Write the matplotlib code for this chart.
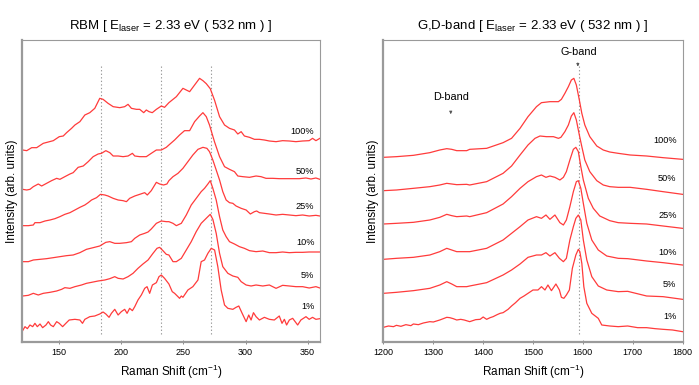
import matplotlib
matplotlib.use("Agg")
import matplotlib.pyplot as plt

plt.rcParams['font.family'] = ['Liberation Sans', 'DejaVu Sans']
plt.rcParams['mathtext.fontset'] = 'custom'
plt.rcParams['mathtext.rm'] = 'Liberation Sans'
plt.rcParams['mathtext.it'] = 'Liberation Sans:italic'

# ---- RBM spectra (Raman shift in cm-1, intensity in arb. units incl. stacking offset)
rbm_100_x = [120.5, 123.8, 127.8, 131.8, 137.1, 145.2, 150.0, 153.2, 155.9, 159.9, 162.6, 166.6, 170.6,
             174.6, 178.6, 182.6, 185.3, 189.3, 193.4, 198.7, 202.7, 205.4, 208.1, 212.1, 214.8, 218.0,
             220.1, 222.3, 224.9, 228.2, 232.2, 234.8, 238.3, 244.3, 249.6, 255.0, 259.0, 263.0, 265.7,
             268.4, 271.6, 275.1, 279.1, 283.1, 287.1, 291.1, 293.8, 296.5, 299.1, 303.2, 307.2, 311.2,
             315.2, 319.2, 324.6, 329.9, 335.3, 340.6, 346.0, 351.3, 354.0, 356.7, 359.9]
rbm_100_y = [576, 574, 583, 583, 596, 604, 616, 618, 628, 641, 651, 661, 681, 688, 701, 731, 728, 716, 706,
             703, 706, 713, 701, 698, 698, 688, 696, 691, 688, 698, 708, 704, 718, 736, 761, 751, 771, 791,
             784, 775, 760, 725, 676, 651, 641, 636, 624, 631, 618, 614, 608, 608, 606, 603, 601, 604, 603,
             601, 603, 604, 611, 604, 611]

rbm_50_x = [120.5, 123.8, 126.4, 129.1, 133.1, 135.8, 139.8, 143.8, 147.9, 150.5, 154.5, 158.6, 161.2,
            165.2, 169.3, 173.3, 177.3, 181.3, 184.0, 187.5, 190.7, 193.4, 197.4, 201.4, 205.4, 208.9,
            210.8, 214.8, 220.1, 224.1, 228.2, 232.2, 236.2, 238.3, 242.9, 246.9, 250.9, 255.0, 259.0,
            263.0, 265.7, 268.4, 271.0, 275.0, 279.1, 283.1, 287.1, 291.1, 293.8, 297.8, 303.2, 308.5,
            312.5, 316.5, 321.9, 327.2, 332.6, 337.9, 343.3, 348.7, 352.7, 356.7, 359.9]
rbm_50_y = [458, 456, 458, 466, 474, 468, 476, 484, 491, 488, 496, 504, 508, 524, 528, 541, 556, 564, 566,
            574, 568, 558, 558, 556, 558, 566, 558, 556, 556, 566, 576, 576, 584, 591, 606, 621, 634, 634,
            661, 678, 688, 676, 651, 601, 556, 526, 518, 511, 498, 496, 494, 498, 496, 491, 491, 490, 490,
            490, 490, 492, 489, 492, 488]

rbm_25_x = [120.5, 125.1, 129.1, 130.4, 134.5, 138.5, 142.5, 146.5, 150.5, 154.5, 158.6, 162.6, 166.6,
            170.6, 173.3, 176.0, 180.0, 183.2, 186.7, 189.3, 193.4, 197.4, 201.4, 204.1, 206.7, 210.8,
            214.8, 218.8, 220.9, 224.1, 228.2, 230.8, 234.0, 236.7, 238.3, 241.6, 245.6, 249.6, 253.6,
            257.6, 261.7, 265.7, 268.9, 271.0, 273.7, 276.4, 279.1, 281.7, 284.4, 287.1, 289.8, 292.4,
            296.5, 300.5, 303.9, 307.2, 309.0, 311.2, 315.2, 319.2, 324.6, 329.9, 335.3, 340.6, 346.0,
            351.3, 356.7, 359.9]
rbm_25_y = [349, 349, 351, 358, 358, 363, 366, 370, 376, 383, 388, 396, 404, 411, 418, 426, 433, 443, 441,
            438, 431, 426, 424, 421, 431, 438, 443, 448, 441, 454, 479, 474, 471, 474, 484, 496, 506, 521,
            541, 561, 578, 584, 581, 571, 546, 516, 486, 451, 426, 418, 416, 408, 401, 396, 384, 391, 393,
            388, 386, 384, 381, 383, 381, 379, 381, 378, 380, 378]

rbm_10_x = [120.5, 125.1, 129.1, 134.5, 139.8, 145.2, 150.5, 155.9, 161.2, 166.6, 171.9, 177.3, 182.6,
            187.5, 190.7, 194.7, 198.7, 204.1, 208.1, 210.8, 214.8, 218.8, 221.5, 224.1, 228.2, 232.2,
            236.2, 238.3, 241.6, 244.3, 248.3, 252.3, 256.3, 260.3, 264.3, 267.0, 269.7, 271.6, 273.7,
            276.4, 279.1, 281.7, 284.4, 287.1, 291.1, 295.1, 299.1, 303.2, 308.5, 313.9, 319.2, 324.6,
            329.9, 335.3, 340.6, 346.0, 351.3, 356.7, 359.9]
rbm_10_y = [241, 241, 246, 248, 250, 253, 256, 259, 261, 268, 278, 283, 288, 299, 301, 296, 296, 298, 301,
            311, 321, 326, 330, 339, 356, 363, 361, 361, 356, 349, 356, 381, 411, 431, 451, 461, 474, 484,
            461, 426, 376, 336, 316, 301, 294, 286, 281, 274, 271, 273, 268, 268, 270, 268, 269, 269, 270,
            270, 270]

rbm_5_x = [120.5, 125.1, 129.1, 133.1, 137.1, 142.5, 147.9, 151.9, 154.5, 158.6, 162.6, 167.9, 171.9,
           176.0, 181.3, 186.7, 190.7, 194.7, 197.4, 201.4, 205.4, 209.4, 213.4, 217.4, 221.5, 225.5,
           228.7, 230.8, 233.5, 236.2, 238.3, 241.6, 244.3, 248.3, 252.3, 256.3, 260.3, 264.3, 267.0,
           269.7, 271.6, 273.7, 276.4, 279.1, 281.7, 285.8, 289.8, 293.8, 296.5, 300.5, 304.5, 308.5,
           313.9, 319.2, 324.6, 329.9, 335.3, 340.6, 346.0, 351.3, 356.7, 359.9]
rbm_5_y = [138, 140, 146, 141, 146, 149, 153, 158, 163, 161, 166, 171, 176, 179, 183, 186, 190, 196, 191,
           189, 196, 206, 221, 234, 246, 266, 281, 284, 274, 263, 261, 241, 241, 251, 276, 301, 331, 356,
           366, 376, 383, 368, 326, 266, 226, 206, 198, 194, 181, 171, 168, 171, 168, 171, 161, 170, 168,
           166, 166, 162, 166, 162]

rbm_1_x = [120.5, 122.4, 124.3, 126.4, 128.6, 130.4, 132.3, 134.5, 136.6, 139.3, 141.2, 143.0, 145.2,
           147.9, 150.0, 152.7, 155.3, 158.0, 162.6, 166.6, 168.7, 170.6, 174.6, 178.6, 182.6, 185.3,
           187.5, 190.1, 192.0, 194.7, 197.4, 200.0, 202.7, 204.6, 206.7, 208.9, 210.8, 213.4, 216.1,
           218.8, 220.7, 222.8, 225.0, 228.2, 230.3, 232.2, 234.8, 238.3, 241.0, 242.9, 245.6, 246.9,
           248.3, 249.6, 253.6, 257.6, 261.7, 264.3, 267.0, 269.7, 272.4, 275.1, 277.7, 280.4, 283.1,
           285.8, 289.8, 292.4, 294.6, 297.3, 300.5, 302.6, 304.5, 306.4, 308.5, 311.2, 315.2, 319.2,
           323.2, 327.2, 329.4, 331.3, 333.1, 335.3, 338.0, 342.0, 344.6, 348.7, 351.3, 354.0, 356.7,
           359.9]
rbm_1_y = [34, 46, 40, 51, 46, 56, 46, 54, 43, 51, 61, 51, 46, 61, 56, 46, 56, 66, 68, 66, 56, 68, 76, 78,
           84, 90, 84, 74, 86, 98, 81, 91, 98, 86, 101, 94, 106, 126, 141, 161, 166, 146, 171, 178, 196,
           201, 191, 174, 151, 146, 136, 131, 138, 134, 156, 166, 186, 241, 246, 266, 281, 276, 226, 156,
           111, 101, 98, 104, 108, 86, 61, 81, 66, 88, 76, 66, 74, 68, 66, 78, 56, 68, 51, 66, 71, 51, 66,
           76, 68, 74, 68, 70]

# ---- G,D-band spectra
g_100_x = [1200, 1226, 1260, 1293, 1313, 1327, 1337, 1347, 1367, 1373, 1407, 1440, 1457, 1474, 1490,
           1507, 1517, 1534, 1551, 1557, 1564, 1571, 1577, 1582, 1587, 1593, 1598, 1604, 1614, 1628,
           1641, 1654, 1671, 1695, 1728, 1761, 1800]
g_100_y = [554, 556, 560, 568, 576, 580, 578, 574, 574, 578, 581, 598, 611, 641, 676, 706, 718, 721, 721,
           728, 746, 766, 786, 791, 771, 726, 686, 651, 616, 588, 576, 570, 566, 561, 558, 553, 548]

g_50_x = [1200, 1226, 1260, 1293, 1313, 1327, 1337, 1347, 1367, 1373, 1407, 1440, 1457, 1474, 1490,
          1504, 1514, 1527, 1541, 1551, 1556, 1564, 1571, 1577, 1582, 1587, 1593, 1598, 1604, 1614,
          1628, 1641, 1654, 1671, 1695, 1728, 1761, 1800]
g_50_y = [454, 456, 461, 466, 471, 476, 474, 472, 473, 471, 481, 506, 528, 561, 591, 611, 618, 616, 616,
          611, 614, 631, 651, 678, 688, 666, 621, 586, 546, 511, 484, 471, 466, 464, 464, 458, 451, 443]

g_25_x = [1200, 1226, 1260, 1293, 1313, 1327, 1337, 1347, 1367, 1373, 1407, 1440, 1457, 1474, 1490,
          1507, 1517, 1526, 1534, 1544, 1554, 1561, 1567, 1574, 1581, 1586, 1591, 1596, 1601, 1611,
          1621, 1634, 1654, 1671, 1695, 1728, 1761, 1800]
g_25_y = [354, 356, 359, 366, 374, 383, 379, 376, 378, 376, 388, 414, 436, 461, 481, 496, 501, 494, 498,
          494, 486, 494, 511, 546, 578, 584, 571, 526, 486, 431, 401, 378, 364, 358, 356, 354, 348, 341]

g_10_x = [1200, 1226, 1260, 1293, 1313, 1327, 1337, 1347, 1367, 1373, 1407, 1440, 1457, 1474, 1490,
          1507, 1517, 1526, 1534, 1544, 1554, 1561, 1567, 1574, 1581, 1587, 1591, 1596, 1601, 1608,
          1618, 1631, 1648, 1671, 1690, 1728, 1761, 1800]
g_10_y = [248, 251, 254, 261, 271, 281, 276, 271, 271, 271, 281, 306, 326, 346, 366, 376, 371, 381, 368,
          381, 358, 351, 366, 406, 451, 481, 484, 461, 416, 356, 306, 276, 258, 251, 250, 243, 238, 231]

g_5_x = [1200, 1226, 1260, 1293, 1313, 1327, 1337, 1347, 1367, 1373, 1407, 1440, 1457, 1474, 1490,
         1507, 1517, 1526, 1534, 1544, 1553, 1561, 1567, 1574, 1581, 1586, 1591, 1596, 1601, 1608,
         1618, 1631, 1648, 1671, 1690, 1728, 1761, 1800]
g_5_y = [146, 149, 154, 161, 171, 181, 174, 166, 166, 168, 178, 201, 216, 234, 254, 261, 261, 268, 258,
         268, 251, 241, 251, 306, 346, 371, 381, 366, 306, 246, 196, 168, 156, 151, 152, 138, 136, 128]

g_1_x = [1200, 1210, 1220, 1226, 1235, 1245, 1255, 1260, 1270, 1280, 1293, 1300, 1313, 1320, 1327, 1333,
         1340, 1347, 1355, 1362, 1373, 1385, 1394, 1400, 1407, 1414, 1420, 1428, 1434, 1440, 1450, 1457,
         1465, 1474, 1482, 1490, 1500, 1510, 1517, 1524, 1530, 1537, 1546, 1553, 1557, 1562, 1567, 1573,
         1579, 1586, 1591, 1594, 1598, 1602, 1608, 1618, 1631, 1638, 1654, 1671, 1690, 1710, 1728, 1745,
         1761, 1780, 1800]
g_1_y = [44, 48, 46, 50, 47, 52, 49, 54, 52, 57, 61, 60, 66, 70, 74, 73, 70, 66, 68, 66, 61, 67, 68, 75,
         68, 73, 76, 82, 86, 88, 98, 108, 118, 131, 138, 146, 156, 156, 166, 156, 171, 154, 174, 156, 134,
         131, 141, 156, 221, 261, 278, 271, 236, 166, 116, 86, 71, 51, 48, 46, 48, 43, 43, 40, 38, 36, 31]

labels = ['100%', '50%', '25%', '10%', '5%', '1%']
rbm_label_y = [630, 510, 405, 297, 198, 105]
g_label_y = [604, 489, 378, 268, 171, 76]
rbm_marks = [184, 232, 272]
g_mark = 1592
d_mark = 1335

rbm_series = [(rbm_100_x, rbm_100_y), (rbm_50_x, rbm_50_y), (rbm_25_x, rbm_25_y),
              (rbm_10_x, rbm_10_y), (rbm_5_x, rbm_5_y), (rbm_1_x, rbm_1_y)]
g_series = [(g_100_x, g_100_y), (g_50_x, g_50_y), (g_25_x, g_25_y),
            (g_10_x, g_10_y), (g_5_x, g_5_y), (g_1_x, g_1_y)]

red = '#ff3b3b'
ymax = 906

fig = plt.figure(figsize=(6.99, 3.85), dpi=100)
ax1 = fig.add_axes([0.0315, 0.1117, 0.4263, 0.7844])
ax2 = fig.add_axes([0.5486, 0.1117, 0.4278, 0.7844])


def style_axes(ax):
    for side in ['top', 'right', 'left', 'bottom']:
        ax.spines[side].set_color('#9a9a9a')
        ax.spines[side].set_linewidth(0.8)
    ax.spines['left'].set_linewidth(1.6)
    ax.spines['bottom'].set_linewidth(1.6)
    ax.set_yticks([])
    ax.tick_params(axis='x', direction='inout', length=3, width=0.6, color='#777777',
                   labelsize=6.5, pad=3)
    ax.set_ylim(0, ymax)
    ax.set_xlabel('Raman Shift (cm$^{-1}$)', fontsize=8.5, labelpad=4)
    ax.set_ylabel('Intensity (arb. units)', fontsize=8.5, labelpad=3)


# RBM panel
for xv in rbm_marks:
    ax1.axvline(xv, ymin=0.027, ymax=0.917, color='#999999', ls=(0, (1.2, 2)), lw=0.8)
for (xs, ys), lab, ly in zip(rbm_series, labels, rbm_label_y):
    ax1.plot(xs, ys, color=red, lw=0.9)
    ax1.text(355.5, ly, lab, fontsize=6.6, ha='right', va='center')
ax1.set_xlim(120, 360)
ax1.set_xticks([150, 200, 250, 300, 350])
style_axes(ax1)
ax1.set_title('RBM [ E$_{\\rm laser}$ = 2.33 eV ( 532 nm ) ]', fontsize=9.5, pad=8)

# G,D-band panel
ax2.axvline(g_mark, ymin=0.027, ymax=0.917, color='#999999', ls=(0, (1.2, 2)), lw=0.8)
for (xs, ys), lab, ly in zip(g_series, labels, g_label_y):
    ax2.plot(xs, ys, color=red, lw=0.9)
    ax2.text(1788, ly, lab, fontsize=6.6, ha='right', va='center')
ax2.set_xlim(1200, 1800)
ax2.set_xticks([1200, 1300, 1400, 1500, 1600, 1700, 1800])
style_axes(ax2)
ax2.set_title('G,D-band [ E$_{\\rm laser}$ = 2.33 eV ( 532 nm ) ]', fontsize=9.5, pad=8)

ax2.text(g_mark, 870, 'G-band', fontsize=7.8, ha='center', va='center')
ax2.annotate('', xy=(g_mark - 2, 818), xytext=(g_mark - 2, 846),
             arrowprops=dict(arrowstyle='-|>', lw=0.6, color='#555555', mutation_scale=4))
ax2.text(d_mark, 735, 'D-band', fontsize=7.8, ha='center', va='center')
ax2.annotate('', xy=(d_mark, 675), xytext=(d_mark, 700),
             arrowprops=dict(arrowstyle='-|>', lw=0.6, color='#555555', mutation_scale=4))

fig.savefig('out.png', dpi=100)
